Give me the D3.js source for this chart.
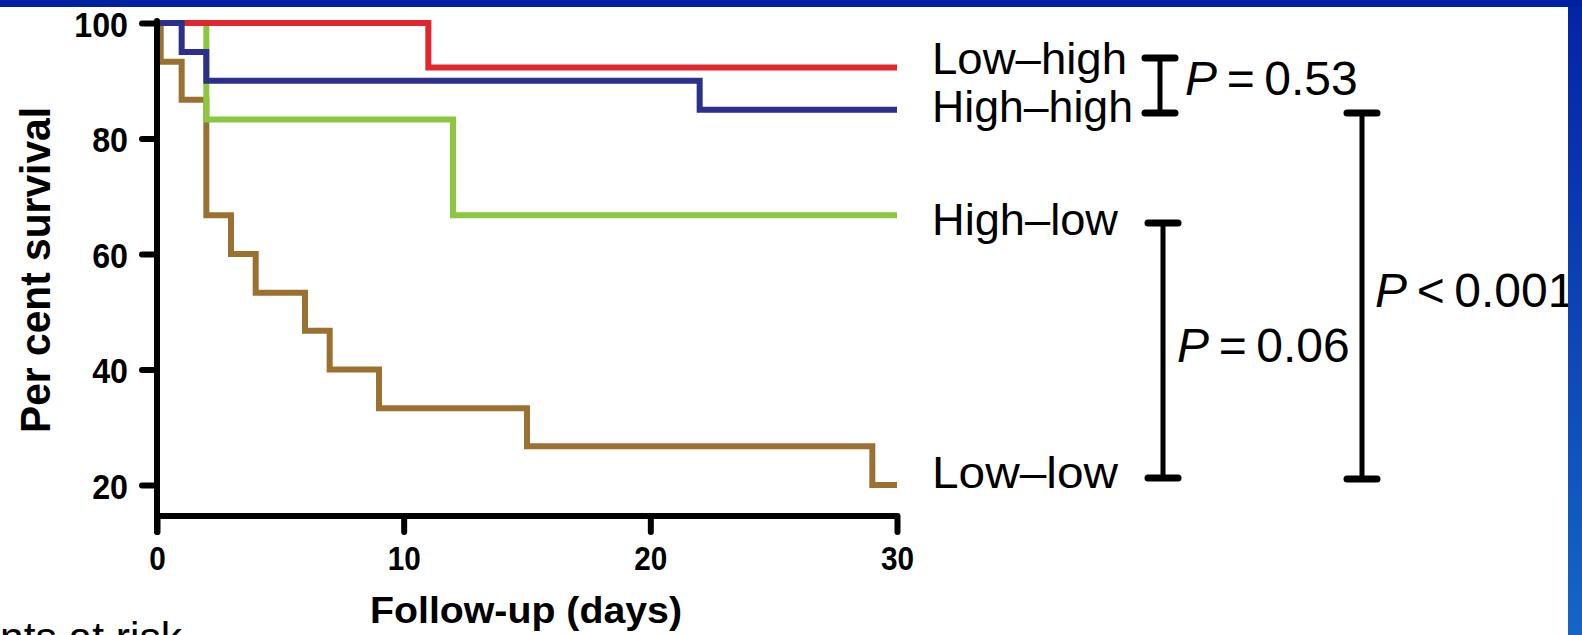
<!DOCTYPE html>
<html>
<head>
<meta charset="utf-8">
<script src="https://cdn.jsdelivr.net/npm/d3@7"></script>
<style>
	html, body { margin: 0; padding: 0; background: #fff; overflow: hidden; }
	#chart svg { display: block; }
</style>
</head>
<body>
<div id="chart"></div>
<script>

// Kaplan-Meier steps (days, per cent surviving)
const groupNames = ['Low–high', 'High–high', 'High–low', 'Low–low'];

const lowHighDays = [0, 11];
const lowHighSurvival = [100, 92.3];

const highHighDays = [0, 1, 2, 22];
const highHighSurvival = [100, 95, 90, 85];

const highLowDays = [0, 2, 12];
const highLowSurvival = [100, 83.3, 66.7];

const lowLowDays = [0, 0.15, 1, 2, 3, 4, 6, 7, 9, 15, 29];
const lowLowSurvival = [100, 93.3, 86.7, 66.7, 60, 53.3, 46.7, 40, 33.3, 26.7, 20];

const followUpEnd = 30;

const xTicks = [0, 10, 20, 30];
const yTicks = [20, 40, 60, 80, 100];

const pLabels = ['P = 0.53', 'P = 0.06', 'P < 0.001'];

class SurvivalChart {

	constructor(options) {
		this.element = options.element;
		this.draw();
	}

	draw() {

		this.width = 1582;
		this.height = 635;
		this.font = '"Liberation Sans", Arial, Helvetica, sans-serif';

		this.createSVG();
		this.createScales();
		this.createCurves();
		this.createAxes();
		this.createLabels();
		this.createBrackets();
		this.createFrame();

	}

	createSVG() {
		this.svg = d3.select(this.element)
			.append('svg')
				.attr('width', this.width)
				.attr('height', this.height);

		this.svg.append('rect')
			.attr('width', this.width)
			.attr('height', this.height)
			.attr('fill', '#fff');
	}

	createScales() {

		this.xScale = d3.scaleLinear()
			.domain([0, 30])
			.range([157, 897]);

		this.yScale = d3.scaleLinear()
			.domain([20, 100])
			.range([485, 23]);

		this.colorScale = d3.scaleOrdinal()
			.domain(groupNames)
			.range(['#e1262d', '#2c2f8c', '#8cc83f', '#9b7131']);

	}

	createCurves() {

		var that = this;

		var series = [
			{ name: 'Low–low', days: lowLowDays, survival: lowLowSurvival },
			{ name: 'High–low', days: highLowDays, survival: highLowSurvival },
			{ name: 'Low–high', days: lowHighDays, survival: lowHighSurvival },
			{ name: 'High–high', days: highHighDays, survival: highHighSurvival }
		];

		var line = d3.line()
			.x(function(d) { return that.xScale(d[0]); })
			.y(function(d) { return that.yScale(d[1]); })
			.curve(d3.curveStepAfter);

		this.svg.append('g')
			.selectAll('path')
			.data(series).enter()
			.append('path')
				.attr('d', function(s) {
					var pts = s.days.map(function(t, i) { return [t, s.survival[i]]; });
					pts.push([followUpEnd, s.survival[s.survival.length - 1]]);
					return line(pts);
				})
				.attr('fill', 'none')
				.attr('stroke', function(s) { return that.colorScale(s.name); })
				.attr('stroke-width', 6);

	}

	// squeeze a text horizontally, the figure's lettering is a little condensed
	condense(sel, k) {
		sel.each(function() {
			var w = this.getComputedTextLength();
			d3.select(this)
				.attr('textLength', w * k)
				.attr('lengthAdjust', 'spacingAndGlyphs');
		});
	}

	createAxes() {

		var axisY = 516;

		this.xAxis = d3.axisBottom(this.xScale)
			.tickValues(xTicks)
			.tickSize(16)
			.tickPadding(15);

		var gx = this.svg.append('g')
			.attr('transform', `translate(0, ${axisY})`)
			.call(this.xAxis);

		gx.select('.domain').remove();
		gx.append('line')
			.attr('x1', this.xScale(0))
			.attr('x2', this.xScale(30))
			.attr('stroke', '#000')
			.attr('stroke-width', 6);

		gx.selectAll('.tick line')
			.attr('stroke', '#000')
			.attr('stroke-width', 6)
			.attr('stroke-linecap', 'round');

		var xt = gx.selectAll('.tick text')
			.attr('fill', '#000')
			.style('font-family', this.font)
			.style('font-weight', 'bold')
			.style('font-size', '33px');
		this.condense(xt, 0.9);

		this.yAxis = d3.axisLeft(this.yScale)
			.tickValues(yTicks)
			.tickSize(15)
			.tickPadding(14);

		var gy = this.svg.append('g')
			.attr('transform', `translate(${this.xScale(0)}, 0)`)
			.call(this.yAxis);

		gy.select('.domain').remove();
		gy.append('line')
			.attr('y1', this.yScale(100) - 2)
			.attr('y2', axisY + 16)
			.attr('stroke', '#000')
			.attr('stroke-width', 6)
			.attr('stroke-linecap', 'round');

		gy.selectAll('.tick line')
			.attr('stroke', '#000')
			.attr('stroke-width', 6)
			.attr('stroke-linecap', 'round');

		var yt = gy.selectAll('.tick text')
			.attr('fill', '#000')
			.attr('dy', '0.38em')
			.style('font-family', this.font)
			.style('font-weight', 'bold')
			.style('font-size', '35px');
		this.condense(yt, 0.92);

	}

	createLabels() {

		this.svg.append('text')
			.attr('x', 526)
			.attr('y', 623)
			.attr('text-anchor', 'middle')
			.attr('textLength', 312)
			.attr('lengthAdjust', 'spacingAndGlyphs')
			.style('font-family', this.font)
			.style('font-weight', 'bold')
			.style('font-size', '37px')
			.text('Follow-up (days)');

		this.svg.append('text')
			.attr('transform', 'translate(50, 270) rotate(-90)')
			.attr('text-anchor', 'middle')
			.attr('textLength', 326)
			.attr('lengthAdjust', 'spacingAndGlyphs')
			.style('font-family', this.font)
			.style('font-weight', 'bold')
			.style('font-size', '42px')
			.text('Per cent survival');

		this.svg.append('text')
			.attr('x', 0)
			.attr('y', 652)
			.attr('textLength', 182)
			.attr('lengthAdjust', 'spacingAndGlyphs')
			.style('font-family', this.font)
			.style('font-size', '42px')
			.text('nts at risk');

		// group names next to the curve ends
		var labelY = [74, 122, 235, 488];
		var labelW = [195, 201, 186, 186];

		this.svg.append('g')
			.selectAll('text')
			.data(groupNames).enter()
			.append('text')
				.attr('x', 932)
				.attr('y', function(d, i) { return labelY[i]; })
				.attr('textLength', function(d, i) { return labelW[i]; })
				.attr('lengthAdjust', 'spacingAndGlyphs')
				.style('font-family', this.font)
				.style('font-size', '44px')
				.text(function(d) { return d; });

		// P values, italic P
		var pPos = [[1185, 95], [1177, 362], [1375, 307]];
		var that = this;

		pLabels.forEach(function(label, i) {
			var parts = label.split(' ');
			var t = that.svg.append('text')
				.attr('x', pPos[i][0])
				.attr('y', pPos[i][1])
				.style('font-family', that.font)
				.style('font-size', '48px');
			t.append('tspan')
				.style('font-style', 'italic')
				.text(parts[0]);
			t.append('tspan')
				.text('\u2009' + parts[1] + '\u2009' + parts[2]);
		});

	}

	createBrackets() {

		var brackets = [
			{ x: 1160, y1: 58, y2: 113 },
			{ x: 1163, y1: 223, y2: 478 },
			{ x: 1362, y1: 113, y2: 479 }
		];

		var g = this.svg.append('g')
			.attr('stroke', '#000')
			.attr('stroke-width', 5)
			.attr('stroke-linecap', 'round');

		brackets.forEach(function(b) {
			g.append('line')
				.attr('x1', b.x).attr('x2', b.x)
				.attr('y1', b.y1).attr('y2', b.y2);
			g.append('line')
				.attr('x1', b.x - 15).attr('x2', b.x + 15)
				.attr('y1', b.y1).attr('y2', b.y1)
				.attr('stroke-width', 7);
			g.append('line')
				.attr('x1', b.x - 15).attr('x2', b.x + 15)
				.attr('y1', b.y2).attr('y2', b.y2)
				.attr('stroke-width', 7);
		});

	}

	createFrame() {

		var defs = this.svg.append('defs');
		var grad = defs.append('linearGradient')
			.attr('id', 'sideBlue')
			.attr('x1', 0).attr('y1', 0)
			.attr('x2', 0).attr('y2', 1);
		grad.append('stop').attr('offset', '0%').attr('stop-color', '#0523a4');
		grad.append('stop').attr('offset', '100%').attr('stop-color', '#1466c6');

		this.svg.append('rect')
			.attr('x', 1568)
			.attr('y', 0)
			.attr('width', this.width - 1568)
			.attr('height', this.height)
			.attr('fill', 'url(#sideBlue)');

		this.svg.append('rect')
			.attr('x', 0)
			.attr('y', 0)
			.attr('width', this.width)
			.attr('height', 7)
			.attr('fill', '#0022a0');

	}

}

new SurvivalChart({ element: '#chart' });

</script>
</body>
</html>
